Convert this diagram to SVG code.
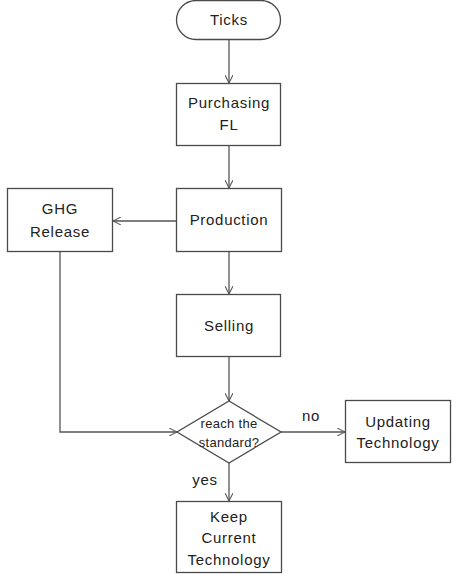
<svg xmlns="http://www.w3.org/2000/svg" width="463" height="575" viewBox="0 0 463 575">
<style>
.box{fill:#fff;stroke:#4a4a4a;stroke-width:1.3}
.t{font-family:"Liberation Sans",Arial,sans-serif;font-size:15px;fill:#222;text-anchor:middle;letter-spacing:0.7px}
.c{fill:none;stroke:#555;stroke-width:1.3}
</style>
<defs>
<marker id="a" viewBox="0 0 10 10" refX="10" refY="5" markerWidth="8" markerHeight="8" markerUnits="userSpaceOnUse" orient="auto">
<path d="M0,0 L10,5 L0,10" fill="none" stroke="#555" stroke-width="1.3"/>
</marker>
</defs>
<rect width="463" height="575" fill="#fff"/>
<g id="connectors">
<line class="c" x1="229" y1="40" x2="229" y2="83" marker-end="url(#a)"/>
<line class="c" x1="229" y1="146" x2="229" y2="188" marker-end="url(#a)"/>
<line class="c" x1="176" y1="221" x2="113" y2="221" marker-end="url(#a)"/>
<line class="c" x1="229" y1="252" x2="229" y2="294" marker-end="url(#a)"/>
<line class="c" x1="229" y1="357" x2="229" y2="401" marker-end="url(#a)"/>
<polyline class="c" points="60,252 60,432 177,432" marker-end="url(#a)"/>
<line class="c" x1="281" y1="432" x2="345" y2="432" marker-end="url(#a)"/>
<line class="c" x1="229" y1="463" x2="229" y2="501" marker-end="url(#a)"/>
<text class="t" x="311" y="421">no</text>
<text class="t" x="205" y="485">yes</text>
</g>
<g id="ticks">
<rect class="box" x="176.5" y="0.5" width="104" height="39" rx="19.5"/>
<text class="t" x="229" y="25">Ticks</text>
</g>
<g id="purchasing">
<rect class="box" x="176.5" y="83.5" width="104" height="62"/>
<text class="t" x="229" y="108">Purchasing</text>
<text class="t" x="229" y="130">FL</text>
</g>
<g id="production">
<rect class="box" x="176.5" y="188.5" width="105" height="63"/>
<text class="t" x="229" y="225">Production</text>
</g>
<g id="ghg">
<rect class="box" x="7.5" y="188.5" width="105" height="63"/>
<text class="t" x="60" y="214">GHG</text>
<text class="t" x="60" y="237">Release</text>
</g>
<g id="selling">
<rect class="box" x="176.5" y="294.5" width="104" height="62"/>
<text class="t" x="229" y="331">Selling</text>
</g>
<g id="decision">
<polygon class="box" points="229,401 281,432 229,463 177,432"/>
<text class="t" x="229" y="428" style="font-size:13px;letter-spacing:0.3px">reach the</text>
<text class="t" x="229" y="447" style="font-size:13px;letter-spacing:0.3px">standard?</text>
</g>
<g id="updating">
<rect class="box" x="345.5" y="400.5" width="105" height="62"/>
<text class="t" x="398" y="427">Updating</text>
<text class="t" x="398" y="448">Technology</text>
</g>
<g id="keep">
<rect class="box" x="176.5" y="501.5" width="105" height="71"/>
<text class="t" x="229" y="522">Keep</text>
<text class="t" x="229" y="543">Current</text>
<text class="t" x="229" y="565">Technology</text>
</g>
</svg>
